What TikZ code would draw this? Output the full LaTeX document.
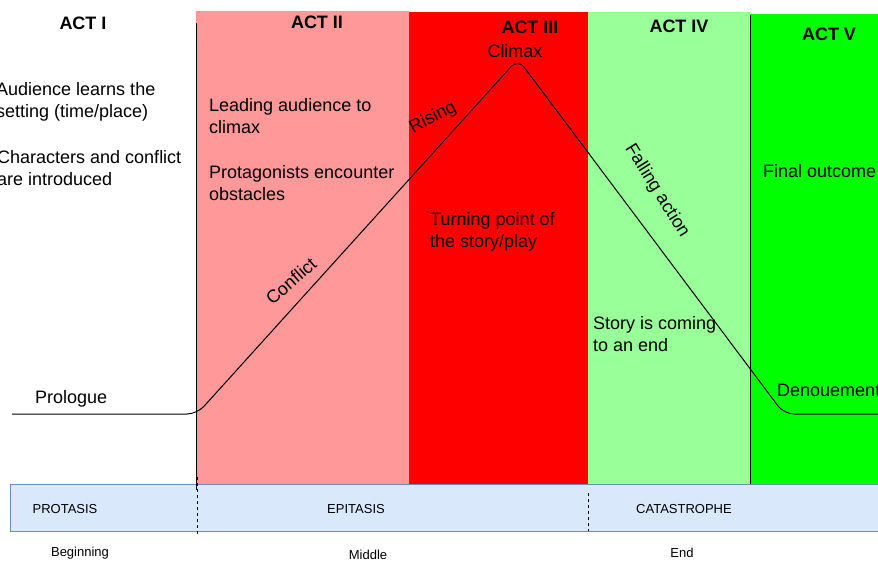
\documentclass[tikz,border=0pt]{standalone}
\usepackage{fontspec}
\setmainfont{Liberation Sans}
\definecolor{pinkc}{HTML}{FF9999}
\definecolor{redc}{HTML}{FF0000}
\definecolor{lgreenc}{HTML}{99FF99}
\definecolor{greenc}{HTML}{00FF00}
\definecolor{bandfill}{HTML}{DAE8FC}
\definecolor{bandline}{HTML}{6C8EBF}
\begin{document}
\begin{tikzpicture}[x=1pt,y=-1pt,
  txt/.style={font=\fontsize{18}{21.6}\selectfont, inner sep=0pt, align=left, anchor=west},
  act/.style={font=\fontsize{18}{21.6}\selectfont\bfseries, inner sep=0pt},
  small/.style={font=\fontsize{13}{15.6}\selectfont, inner sep=0pt},
  curve/.style={line width=1pt, rounded corners=10pt},
  sep/.style={line width=1pt},
  dsep/.style={line width=1pt, dash pattern=on 3pt off 3pt}]
\useasboundingbox (0,0) rectangle (878,564);
\begin{scope}
\clip (0,0) rectangle (878,564);
% act panels
\fill[pinkc] (196,11) rectangle (409,484);
\fill[redc] (409,12) rectangle (588,484);
\fill[lgreenc] (588,12) rectangle (750,484);
\fill[greenc] (750,14) rectangle (890,484);
% bottom band
\draw[fill=bandfill, draw=bandline, line width=1pt] (10,484) rectangle (900,531);
% separators
\draw[sep] (196,23) -- (196,490);
\draw[sep] (750,15) -- (750,484);
\draw[dsep] (197,477) -- (197,534);
\draw[dsep] (588,493) -- (588,531);
% dramatic arc
\coordinate (p0) at (12,414);
\coordinate (c1) at (197,414);
\coordinate (pk) at (518,59);
\coordinate (c2) at (784,414);
\coordinate (p1) at (900,414);
\draw[curve] (p0) -- (c1) -- (pk) -- (c2) -- (p1);
% act titles
\node[act] (a1) at (83,23) {ACT I};
\node[act] (a2) at (317,22) {ACT II};
\node[act] (a3) at (530,27) {ACT III};
\node[act] (a4) at (679,26) {ACT IV};
\node[act] (a5) at (829,34) {ACT V};
% texts
\node[txt] (t1) at (-4,102) {Audience learns the\\setting (time/place)};
\node[txt] (t2) at (-3,168) {Characters and conflict\\are introduced};
\node[txt] (t3) at (209,116) {Leading audience to\\climax};
\node[txt] (t4) at (209,183) {Protagonists encounter\\obstacles};
\node[txt] (t5) at (430,232) {Turning point of\\the story/play};
\node[txt] (t6) at (593,334) {Story is coming\\to an end};
\node[txt] (t7) at (763,171) {Final outcome};
\node[txt] (t8) at (777,390) {Denouement};
\node[txt] (t9) at (35,399) {Prologue};
\node[txt, anchor=center] (t10) at (515,51) {Climax};
\node[txt, anchor=center, rotate=41] (l1) at (291,281) {Conflict};
\node[txt, anchor=center, rotate=28] (l2) at (433,118) {Rising};
\node[txt, anchor=center, rotate=-58] (l3) at (657,191) {Falling action};
% band labels
\node[small] (b1) at (65,509) {PROTASIS};
\node[small] (b2) at (356,509) {EPITASIS};
\node[small] (b3) at (684,509) {CATASTROPHE};
\node[small] (s1) at (80,553) {Beginning};
\node[small] (s2) at (368,555) {Middle};
\node[small] (s3) at (682,553) {End};
\end{scope}
\end{tikzpicture}
\end{document}
